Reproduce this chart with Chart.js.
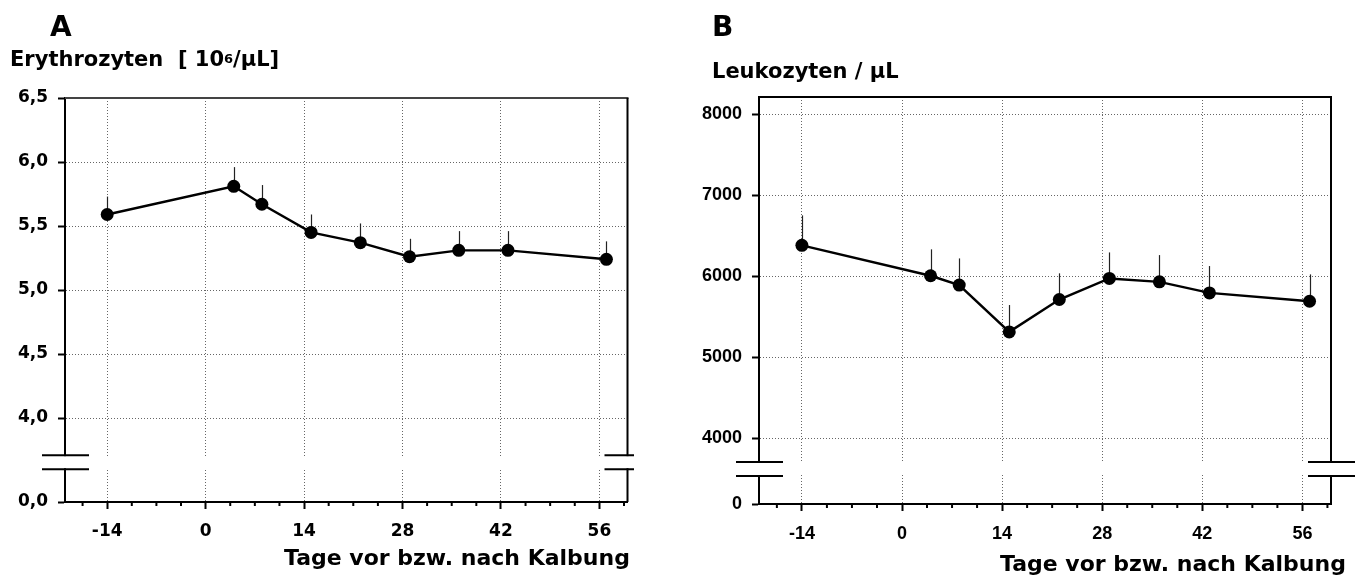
<!DOCTYPE html>
<html>
<head>
<meta charset="utf-8">
<script src="https://cdn.jsdelivr.net/npm/chart.js@4.4.0/dist/chart.umd.min.js"></script>
<style>
  body { margin: 0; background: #fff; width: 1362px; height: 580px; position: relative; overflow: hidden; }
  .panel { position: absolute; top: 0; height: 580px; }
  #panelA { left: 0; width: 634px; }
  #panelB { left: 681px; width: 681px; }
</style>
</head>
<body>
<div class="panel" id="panelA"><canvas id="chartA"></canvas></div>
<div class="panel" id="panelB"><canvas id="chartB"></canvas></div>
<script>
// Sampling days relative to calving
const days = [-14, 4, 8, 15, 22, 29, 36, 43, 57];
const dayTicks = [-14, 0, 14, 28, 42, 56];

// Erythrocytes [10^6/µL], mean and SD
const eryMean = [5.59, 5.81, 5.67, 5.45, 5.37, 5.26, 5.31, 5.31, 5.24];
const erySd = [0.14, 0.15, 0.15, 0.14, 0.15, 0.14, 0.15, 0.15, 0.14];
const eryTicks = [4.0, 4.5, 5.0, 5.5, 6.0, 6.5];

// Leukocytes / µL, mean and SD
const leuMean = [6380, 6005, 5890, 5313, 5712, 5972, 5930, 5794, 5691];
const leuSd = [370, 326, 329, 331, 323, 321, 330, 331, 331];
const leuTicks = [4000, 5000, 6000, 7000, 8000];

const TITLE_FAMILY = '"DejaVu Sans", sans-serif';

function strokeLine(ctx, x1, y1, x2, y2) {
  ctx.beginPath();
  ctx.moveTo(x1, y1);
  ctx.lineTo(x2, y2);
  ctx.stroke();
}

// Frame, minor ticks, axis break and SD whiskers, plus the panel texts
const panelDecor = {
  id: 'panelDecor',
  beforeDatasetsDraw(chart, args, o) {
    const { ctx, chartArea: a, scales: { x, y } } = chart;
    ctx.save();
    ctx.lineWidth = 2;
    ctx.strokeStyle = o.topColor;
    strokeLine(ctx, a.left, a.top, a.right + 1, a.top);
    ctx.strokeStyle = '#000';
    strokeLine(ctx, a.right, a.top, a.right, a.bottom);

    // minor ticks every half week
    for (let v = -17.5; v < x.max; v += 3.5) {
      if (dayTicks.includes(v)) continue;
      const px = x.getPixelForValue(v);
      strokeLine(ctx, px, a.bottom, px, a.bottom + 4);
    }

    // axis break
    const yHi = y.getPixelForValue(o.breakAt[1]);
    const yLo = y.getPixelForValue(o.breakAt[0]);
    ctx.fillStyle = '#fff';
    ctx.fillRect(a.left - 3, yHi + 1, a.right - a.left + 6, yLo - yHi - 2);
    [a.left, a.right].forEach(ax => {
      strokeLine(ctx, ax - 23, yHi, ax + 24, yHi);
      strokeLine(ctx, ax - 23, yLo, ax + 24, yLo);
    });

    // upper SD whiskers
    ctx.lineWidth = 1.2;
    ctx.strokeStyle = '#222';
    chart.data.datasets[0].data.forEach((pt, i) => {
      const px = Math.round(x.getPixelForValue(pt.x)) + 0.5;
      strokeLine(ctx, px, y.getPixelForValue(pt.y), px, y.getPixelForValue(pt.y + o.sd[i]));
    });
    ctx.restore();
  },
  afterDraw(chart, args, o) {
    const ctx = chart.ctx;
    ctx.save();
    ctx.fillStyle = '#000';
    ctx.textBaseline = 'alphabetic';
    ctx.textAlign = 'left';

    ctx.font = 'bold 28px ' + TITLE_FAMILY;
    ctx.fillText(o.letter, o.letterX, 36);

    let tx = o.yTitleX;
    o.yTitle.forEach(part => {
      ctx.font = 'bold ' + (part.sup ? 13 : 21) + 'px ' + TITLE_FAMILY;
      ctx.fillText(part.t, tx, o.yTitleY - (part.sup ? 3 : 0));
      tx += ctx.measureText(part.t).width;
    });

    ctx.font = 'bold 22px ' + TITLE_FAMILY;
    ctx.fillText('Tage vor bzw. nach Kalbung', o.xTitleX, o.xTitleY);
    ctx.restore();
  }
};

function buildChart(id, p) {
  return new Chart(document.getElementById(id), {
    type: 'line',
    data: {
      datasets: [{
        data: days.map((d, i) => ({ x: d, y: p.mean[i] })),
        borderColor: '#000',
        borderWidth: 2.4,
        pointRadius: 6.5,
        pointHoverRadius: 6.5,
        pointBackgroundColor: '#000',
        pointBorderWidth: 0,
        tension: 0
      }]
    },
    options: {
      responsive: true,
      maintainAspectRatio: false,
      animation: false,
      events: [],
      layout: { padding: { top: p.top, right: p.right, left: 0, bottom: 0 } },
      plugins: {
        legend: { display: false },
        tooltip: { enabled: false },
        panelDecor: p.decor
      },
      scales: {
        x: {
          type: 'linear',
          min: -20,
          max: 60,
          afterBuildTicks: s => { s.ticks = dayTicks.map(v => ({ value: v })); },
          afterFit: s => { s.height = p.xHeight; },
          grid: { color: '#666', lineWidth: 1, tickLength: 7, tickColor: '#000', tickWidth: 2 },
          border: { color: '#000', width: 2, dash: [1, 2] },
          ticks: { color: '#000', font: p.tickFont, padding: 12, maxRotation: 0, autoSkip: false, callback: v => String(v) }
        },
        y: {
          type: 'linear',
          min: p.min,
          max: p.max,
          afterBuildTicks: s => { s.ticks = [{ value: p.min }].concat(p.ticks.map(v => ({ value: v }))); },
          afterFit: s => { s.width = p.yWidth; },
          grid: { color: '#666', lineWidth: 1, tickLength: 7, tickColor: '#000', tickWidth: 2 },
          border: { color: '#000', width: 2, dash: [1, 2] },
          ticks: { color: '#000', font: p.tickFont, padding: 10, autoSkip: false, callback: v => (v === p.min ? p.zeroLabel : p.fmt(v)) }
        }
      }
    },
    plugins: [panelDecor]
  });
}

buildChart('chartA', {
  mean: eryMean,
  ticks: eryTicks,
  min: 3.344,
  max: 6.5,
  zeroLabel: '0,0',
  fmt: v => v.toFixed(1).replace('.', ','),
  tickFont: { family: TITLE_FAMILY, size: 17, weight: 'bold' },
  top: 98, right: 6, xHeight: 78, yWidth: 65,
  decor: {
    sd: erySd,
    breakAt: [3.60, 3.71],
    topColor: '#444',
    letter: 'A', letterX: 50,
    yTitle: [{ t: 'Erythrozyten  [ 10' }, { t: '6', sup: true }, { t: '/µL]' }],
    yTitleX: 10, yTitleY: 66,
    xTitleX: 284, xTitleY: 565
  }
});

buildChart('chartB', {
  mean: leuMean,
  ticks: leuTicks,
  min: 3190,
  max: 8210,
  zeroLabel: '0',
  fmt: v => String(v),
  tickFont: { family: '"Liberation Sans", Arial, sans-serif', size: 18, weight: 'bold' },
  top: 97, right: 31, xHeight: 76, yWidth: 78,
  decor: {
    sd: leuSd,
    breakAt: [3535, 3708],
    topColor: '#000',
    letter: 'B', letterX: 31,
    yTitle: [{ t: 'Leukozyten / µL' }],
    yTitleX: 31, yTitleY: 78,
    xTitleX: 319, xTitleY: 571
  }
});
</script>
</body>
</html>
